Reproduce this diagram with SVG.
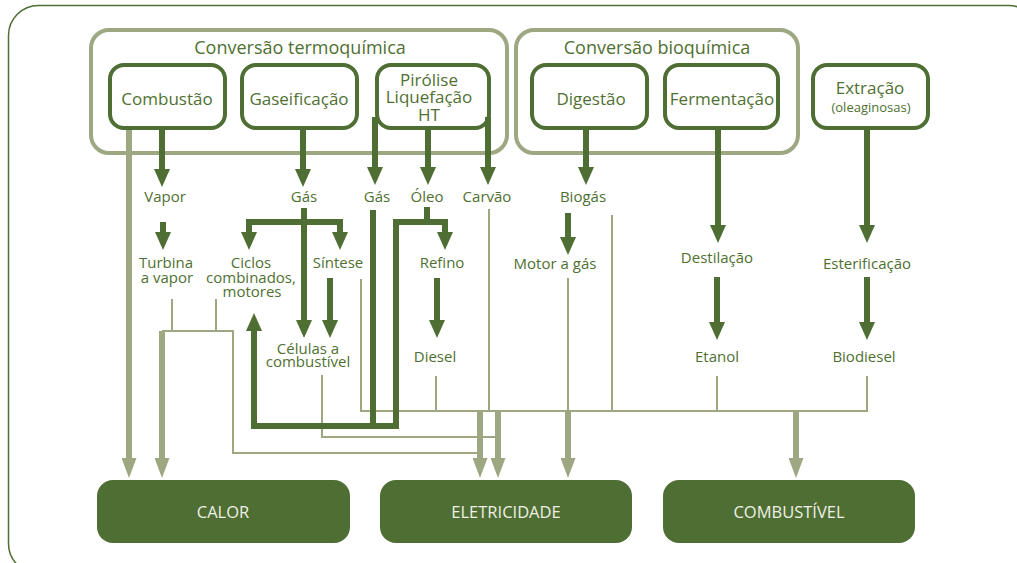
<svg xmlns="http://www.w3.org/2000/svg" width="1017" height="563" viewBox="0 0 1017 563">
<style>
text{font-family:"Open Sans","Liberation Sans",sans-serif;fill:#4f7032;text-anchor:middle}
.t{font-size:17px}
.g{font-size:18px}
.l{font-size:15px}
.s{font-size:13px}
.o{font-size:16.5px;fill:#eef0e6}
.grp{fill:none;stroke:#9da883;stroke-width:4}
.box{fill:#fff;stroke:#4e6e33;stroke-width:4}
.out{fill:#4e6e33}
.dk{fill:none;stroke:#4e6e33;stroke-width:6;stroke-linejoin:miter}
.lt{fill:none;stroke:#9da883;stroke-width:6}
.th{fill:none;stroke:#9da883;stroke-width:2}
</style>
<defs>
<marker id="ad" markerUnits="userSpaceOnUse" markerWidth="18" markerHeight="16" viewBox="0 0 18 16" refX="0" refY="8" orient="auto-start-reverse"><path d="M0,0 L18,8 L0,16 z" fill="#4e6e33"/></marker>
<marker id="al" markerUnits="userSpaceOnUse" markerWidth="20" markerHeight="15" viewBox="0 0 20 15" refX="0" refY="7.5" orient="auto"><path d="M0,0 L20,7.5 L0,15 z" fill="#9da883"/></marker>
</defs>
<rect x="8.5" y="5.5" width="1030" height="568" rx="30" fill="none" stroke="#4e6e33" stroke-width="1.5"/>

<g id="thermo"><rect class="grp" x="91" y="30" width="416" height="123" rx="18"/><text class="g" x="300" y="54">Conversão termoquímica</text></g>
<g id="bio"><rect class="grp" x="516" y="30" width="282" height="123" rx="18"/><text class="g" x="657" y="54">Conversão bioquímica</text></g>

<g id="connectors">
<path class="lt" d="M129,127 V458" marker-end="url(#al)"/>
<path class="lt" d="M162,331 V458" marker-end="url(#al)"/>
<path class="lt" d="M480,411 V458" marker-end="url(#al)"/>
<path class="lt" d="M498,411 V458" marker-end="url(#al)"/>
<path class="lt" d="M568,411 V458" marker-end="url(#al)"/>
<path class="lt" d="M796,411 V458" marker-end="url(#al)"/>
<path class="th" d="M172,299 V331 M216,299 V331 M162,331 H233 V453 H480"/>
<path class="th" d="M322,375 V437 H498"/>
<path class="th" d="M361,279 V411 H867 V376 M436,376 V411 M489,209 V411 M568,278 V411 M612,215 V411 M717,376 V411"/>
<path class="dk" d="M162,128 V169" marker-end="url(#ad)"/>
<path class="dk" d="M303,128 V169" marker-end="url(#ad)"/>
<path class="dk" d="M428,128 V167" marker-end="url(#ad)"/>
<path class="dk" d="M586,128 V167" marker-end="url(#ad)"/>
<path class="dk" d="M163,222 V232" marker-end="url(#ad)"/>
<path class="dk" d="M304,208 V320" marker-end="url(#ad)"/>
<path class="dk" d="M249,232 V222 H340 V232" marker-start="url(#ad)" marker-end="url(#ad)"/>
<path class="dk" d="M330,278 V320" marker-end="url(#ad)"/>
<path class="dk" d="M373,210 V426"/>
<path class="dk" d="M427,207 V222"/>
<path class="dk" d="M445,232 V222 H396 V426 H254 V331" marker-start="url(#ad)" marker-end="url(#ad)"/>
<path class="dk" d="M437,278 V320" marker-end="url(#ad)"/>
<path class="dk" d="M568,213 V237" marker-end="url(#ad)"/>
<path class="dk" d="M718,128 V225" marker-end="url(#ad)"/>
<path class="dk" d="M867,128 V225" marker-end="url(#ad)"/>
<path class="dk" d="M717,277 V322" marker-end="url(#ad)"/>
<path class="dk" d="M867,277 V322" marker-end="url(#ad)"/>
</g>

<g id="combustao"><rect class="box" x="110" y="65" width="115" height="63" rx="14"/><text class="t" x="167" y="105">Combustão</text></g>
<g id="gaseificacao"><rect class="box" x="242" y="65" width="115" height="63" rx="14"/><text class="t" x="299" y="105">Gaseificação</text></g>
<g id="pirolise"><rect class="box" x="377" y="65" width="112" height="63" rx="14"/><text class="t" x="429" y="86">Pirólise</text><text class="t" x="429" y="103">Liquefação</text><text class="t" x="429" y="121">HT</text></g>
<g id="digestao"><rect class="box" x="532" y="65" width="115" height="63" rx="14"/><text class="t" x="591" y="105">Digestão</text></g>
<g id="fermentacao"><rect class="box" x="665" y="65" width="113" height="63" rx="14"/><text class="t" x="722" y="105">Fermentação</text></g>
<g id="extracao"><rect class="box" x="813" y="65" width="115" height="63" rx="14"/><text class="t" x="870" y="94">Extração</text><text class="s" x="871" y="112">(oleaginosas)</text></g>

<g id="pirolise-side-arrows">
<path class="dk" d="M375,117 V167" marker-end="url(#ad)"/>
<path class="dk" d="M488,117 V167" marker-end="url(#ad)"/>
</g>

<g id="labels">
<text class="l" x="165" y="202">Vapor</text>
<text class="l" x="304" y="202">Gás</text>
<text class="l" x="377" y="202">Gás</text>
<text class="l" x="427" y="202">Óleo</text>
<text class="l" x="487" y="202">Carvão</text>
<text class="l" x="583" y="202">Biogás</text>
<text class="l" x="166" y="268">Turbina</text>
<text class="l" x="167" y="283">a vapor</text>
<text class="l" x="251" y="268">Ciclos</text>
<text class="l" x="251" y="283">combinados,</text>
<text class="l" x="252" y="297">motores</text>
<text class="l" x="338" y="268">Síntese</text>
<text class="l" x="442" y="268">Refino</text>
<text class="l" x="555" y="269">Motor a gás</text>
<text class="l" x="717" y="263">Destilação</text>
<text class="l" x="867" y="269">Esterificação</text>
<text class="l" x="308" y="354">Células a</text>
<text class="l" x="308" y="367">combustível</text>
<text class="l" x="435" y="362">Diesel</text>
<text class="l" x="717" y="362">Etanol</text>
<text class="l" x="864" y="362">Biodiesel</text>
</g>

<g id="calor"><rect class="out" x="97" y="480" width="253" height="63" rx="16"/><text class="o" x="223" y="518">CALOR</text></g>
<g id="eletricidade"><rect class="out" x="380" y="480" width="252" height="63" rx="16"/><text class="o" x="506" y="518">ELETRICIDADE</text></g>
<g id="combustivel"><rect class="out" x="663" y="480" width="252" height="63" rx="16"/><text class="o" x="789" y="518">COMBUSTÍVEL</text></g>
</svg>
